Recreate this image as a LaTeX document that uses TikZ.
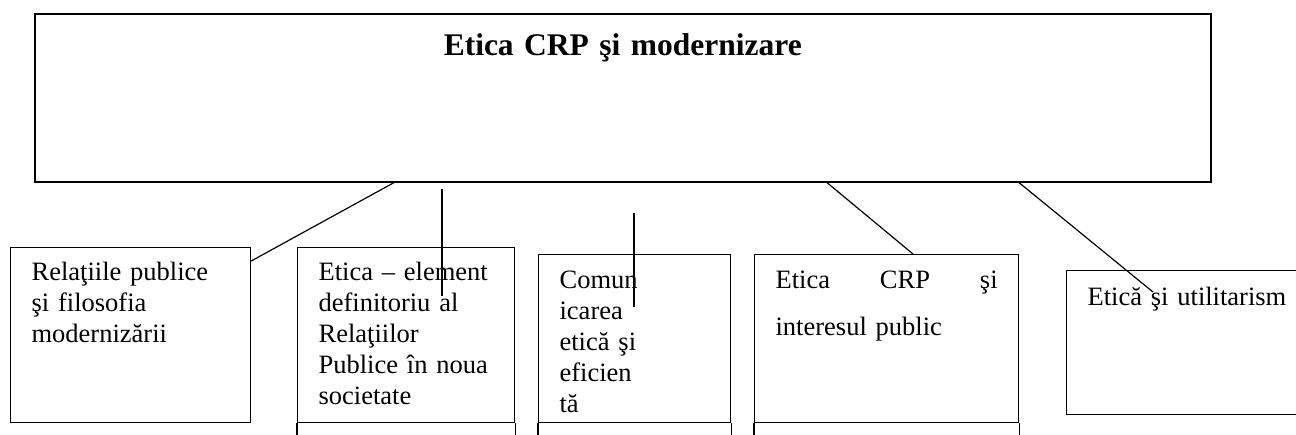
\documentclass[tikz,border=0pt]{standalone}
\usepackage{fontspec}
\setmainfont{Liberation Serif}

\begin{document}
\begin{tikzpicture}[x=1pt, y=-1pt,
    cell/.style={draw, line width=1.2pt, anchor=north west, align=left, inner xsep=21pt, inner ysep=0pt, text height=34pt, font=\fontsize{26.5pt}{31pt}\selectfont},
    link/.style={line width=1.2pt}]
    \useasboundingbox (0,0) rectangle (1296,434);

    % Draw nodes
    \node[draw, line width=1.6pt, anchor=north west, align=center, inner sep=0pt, text width=1176pt, text height=42pt, text depth=126pt, font=\fontsize{31.5pt}{36pt}\selectfont\bfseries] (title) at (34,13) {Etica CRP şi modernizare};
    \node[cell, text width=198pt, text height=33pt, text depth=142pt] (rel) at (10,247) {Relaţiile publice\\ şi filosofia\\ modernizării};
    \node[cell, text width=175pt, text height=33pt, text depth=142pt] (etica) at (297,247) {Etica – element\\ definitoriu al\\ Relaţiilor\\ Publice în noua\\ societate};
    \node[cell, text width=150pt, text depth=134pt] (comun) at (538,254) {Comun\\ icarea\\ etică şi\\ eficien\\ tă};
    \node[cell, text width=222pt, text depth=134pt] (crp) at (754,254) {Etica \hfill CRP \hfill şi\\[16pt] interesul public};
    \node[cell, text width=260pt, text height=35pt, text depth=109pt] (util) at (1066,270) {Etică şi utilitarism};

    % Draw the cells below, cut by the page
    \foreach \c in {etica, comun, crp} {
        \draw[link] (\c.south west) -- ++(0,20);
        \draw[link] (\c.south east) -- ++(0,20);
    }

    % Draw edges
    \draw[link] ([xshift=360pt]title.south west) -- ([yshift=-14pt]rel.north east);
    \draw[link] ([xshift=408pt,yshift=-6pt]title.south west) -- ([xshift=145pt,yshift=-49pt]etica.north west);
    \draw[link] ([xshift=600pt,yshift=-30pt]title.south west) -- ([xshift=96pt,yshift=-53pt]comun.north west);
    \draw[link] ([xshift=793pt]title.south west) -- ([xshift=159pt]crp.north west);
    \draw[link] ([xshift=985pt]title.south west) -- ([xshift=87pt,yshift=-22pt]util.north west);
\end{tikzpicture}
\end{document}
